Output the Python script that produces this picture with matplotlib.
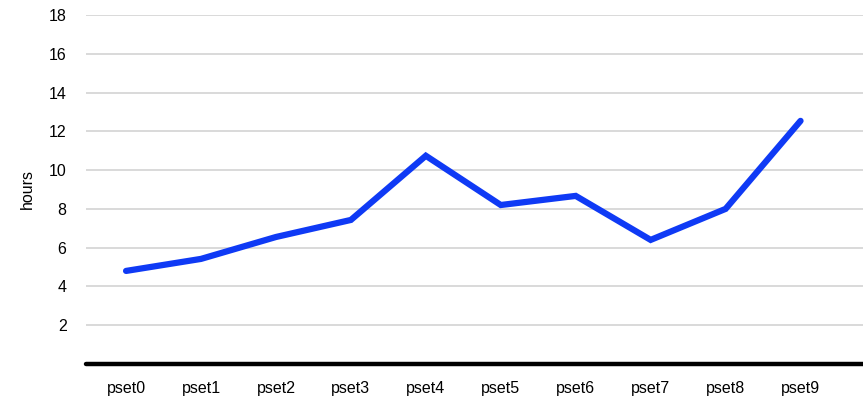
import matplotlib.pyplot as plt

plt.rcParams['font.family'] = ['Liberation Sans', 'DejaVu Sans']

psets = ['pset0', 'pset1', 'pset2', 'pset3', 'pset4', 'pset5', 'pset6', 'pset7', 'pset8', 'pset9']
hours = [4.8, 5.42, 6.55, 7.43, 10.74, 8.2, 8.67, 6.4, 8.0, 12.54]

fig = plt.figure(figsize=(8.63, 4.07), dpi=100)
ax = fig.add_axes([0.0997, 0.1057, 0.9, 0.8574])

x = list(range(len(psets)))
ax.plot(x, hours, color='#0f3af5', linewidth=4.5, solid_capstyle='round', solid_joinstyle='miter', zorder=3)

ax.set_ylim(0, 18)
ax.set_xlim(-0.534, 9.83)
ax.set_yticks([2, 4, 6, 8, 10, 12, 14, 16, 18])
ax.set_xticks(x)
ax.set_xticklabels(psets)
ax.yaxis.grid(True, color='#d9d9d9', linewidth=1.4)
ax.set_axisbelow(True)

for side in ['top', 'right', 'left']:
    ax.spines[side].set_visible(False)
ax.spines['bottom'].set_linewidth(3.2)
ax.spines['bottom'].set_color('black')
ax.spines['bottom'].set_capstyle('round')

ax.tick_params(axis='both', length=0, labelsize=11.5, colors='black')
ax.tick_params(axis='y', pad=14)
ax.tick_params(axis='x', pad=12)
ax.set_ylabel('hours', fontsize=11.5, labelpad=10)

fig.savefig('out.png', dpi=100)
